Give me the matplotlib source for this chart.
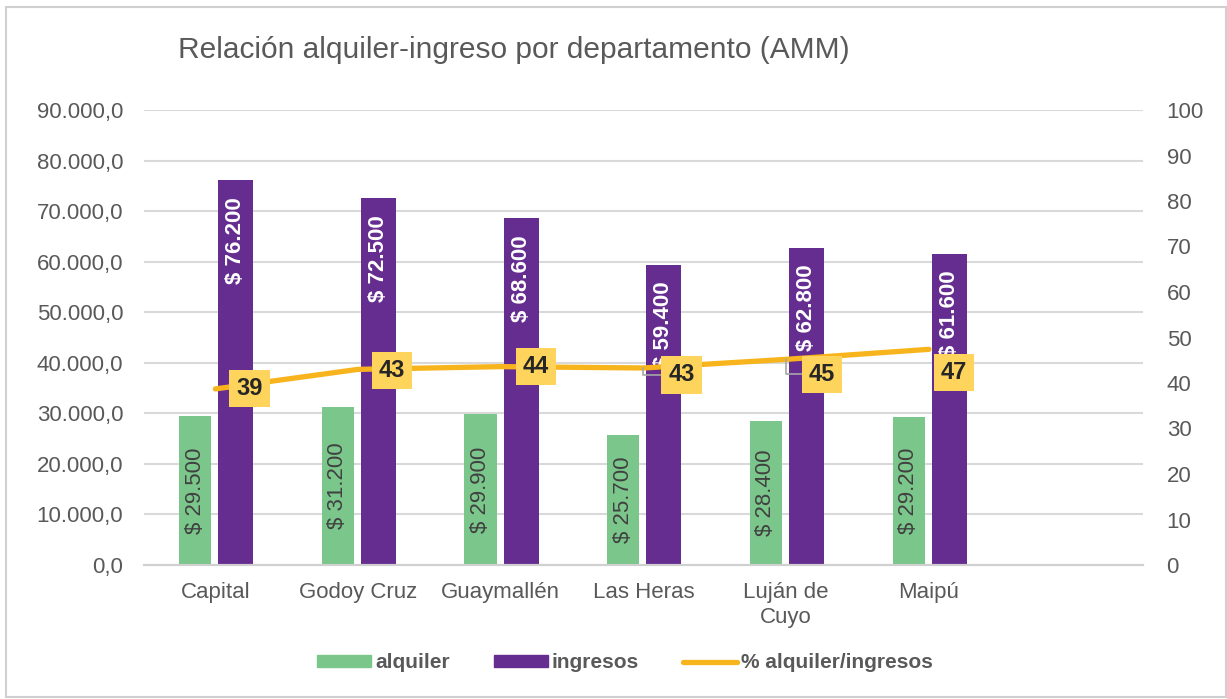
import matplotlib
matplotlib.use("Agg")
import matplotlib.pyplot as plt
import numpy as np
from matplotlib.patches import Rectangle, Patch
from matplotlib.lines import Line2D
from matplotlib.ticker import FuncFormatter, MultipleLocator

plt.rcParams['font.family'] = ['Liberation Sans', 'DejaVu Sans']

categories = ["Capital", "Godoy Cruz", "Guaymallén", "Las Heras", "Luján de\nCuyo", "Maipú"]
alquiler = [29500, 31200, 29900, 25700, 28400, 29200]
ingresos = [76200, 72500, 68600, 59400, 62800, 61600]
ratio = [38.7, 43.0, 43.6, 43.3, 45.2, 47.4]
ratio_labels = ["39", "43", "44", "43", "45", "47"]

title = "Relación alquiler-ingreso por departamento (AMM)"

C_GREEN = "#7BC68B"
C_PURPLE = "#662D91"
C_LINE = "#F8B41C"
C_BOX = "#FFD45C"
C_TEXT = "#595959"
C_GRID = "#D9D9D9"

W, H = 1227, 699
fig = plt.figure(figsize=(W / 100, H / 100), dpi=100)
fig.patch.set_facecolor("white")

# border
fig.add_artist(Rectangle((6 / W, 1 - 697 / H), (1226 - 6) / W, (697 - 7) / H,
                         transform=fig.transFigure, fill=False,
                         edgecolor="#D0D0D0", lw=1.5))

ax = fig.add_axes([144 / W, 1 - 565 / H, (1143 - 144) / W, (565 - 110) / H])
ax2 = ax.twinx()

x = np.arange(len(categories))
ax.set_xlim(-0.5, 6.5)
ax.set_ylim(0, 90000)
ax2.set_ylim(0, 100)

off = 0.142
ax.bar(x - off, alquiler, 0.225, color=C_GREEN, zorder=2, label="alquiler")
ax.bar(x + off, ingresos, 0.245, color=C_PURPLE, zorder=2, label="ingresos")

def money(v):
    return "$ " + f"{v:,}".replace(",", ".")

for xi, v in zip(x, alquiler):
    ax.text(xi - off, v / 2, money(v), rotation=90, ha="center", va="center",
            color="#404040", fontsize=16, zorder=3)
for xi, v in zip(x, ingresos):
    ax.annotate(money(v), (xi + off, v), xytext=(0, -17), textcoords="offset pixels",
                rotation=90, ha="center", va="top", color="white",
                fontsize=16, fontweight="bold", zorder=3)

ax.yaxis.set_major_locator(MultipleLocator(10000))
ax.yaxis.set_major_formatter(FuncFormatter(lambda v, p: f"{v:,.1f}".replace(",", "X").replace(".", ",").replace("X", ".")))
ax2.yaxis.set_major_locator(MultipleLocator(10))
ax2.yaxis.set_major_formatter(FuncFormatter(lambda v, p: f"{int(v)}"))

ax.set_xticks(x)
ax.set_xticklabels(categories, fontsize=16, color=C_TEXT, linespacing=1.25)
ax.tick_params(axis="x", length=0, pad=12)
ax.tick_params(axis="y", length=0, pad=15, labelsize=16, labelcolor=C_TEXT)
ax2.tick_params(axis="y", length=0, pad=17, labelsize=16, labelcolor=C_TEXT)

ax.grid(axis="y", color=C_GRID, lw=1.5, zorder=0)
ax.set_axisbelow(True)
for a in (ax, ax2):
    for s in ["top", "left", "right"]:
        a.spines[s].set_visible(False)
    a.spines["bottom"].set_color("#D0D0D0")
    a.spines["bottom"].set_linewidth(1.5)

ax2.plot(x, ratio, color=C_LINE, lw=3.8, solid_capstyle="round", zorder=4)

label_offsets = [(34, 0), (34, -1), (35, 0), (38, -7), (36, -15), (25, -23)]
leaders = [False, False, False, True, True, False]
for xi, v, t, (dx, dy), ld in zip(x, ratio, ratio_labels, label_offsets, leaders):
    kw = {}
    if ld:
        kw["arrowprops"] = dict(arrowstyle="-", color="#A6A6A6", lw=1.2,
                                connectionstyle="angle,angleA=0,angleB=90,rad=0",
                                shrinkA=0, shrinkB=0)
    ax2.annotate(t, (xi, v), xytext=(dx, dy), textcoords="offset pixels",
                 ha="center", va="center", fontsize=17, fontweight="bold",
                 color="#262626", zorder=5,
                 bbox=dict(boxstyle="square,pad=0.3", fc=C_BOX, ec="none"), **kw)

fig.text(178 / W, 1 - 50 / H, title, fontsize=21.5, color=C_TEXT, ha="left", va="center")

handles = [Patch(color=C_GREEN), Patch(color=C_PURPLE),
           Line2D([0], [0], color=C_LINE, lw=3.8, solid_capstyle="round")]
labels = ["alquiler", "ingresos", "% alquiler/ingresos"]
leg = fig.legend(handles, labels, loc="center", bbox_to_anchor=(625 / W, 1 - 663 / H),
                 ncol=3, frameon=False, handlelength=2.6, handleheight=0.5,
                 handletextpad=0.2, columnspacing=2.1,
                 prop={"size": 15, "weight": "bold"})
for t in leg.get_texts():
    t.set_color(C_TEXT)

fig.savefig("out.png", dpi=100)
